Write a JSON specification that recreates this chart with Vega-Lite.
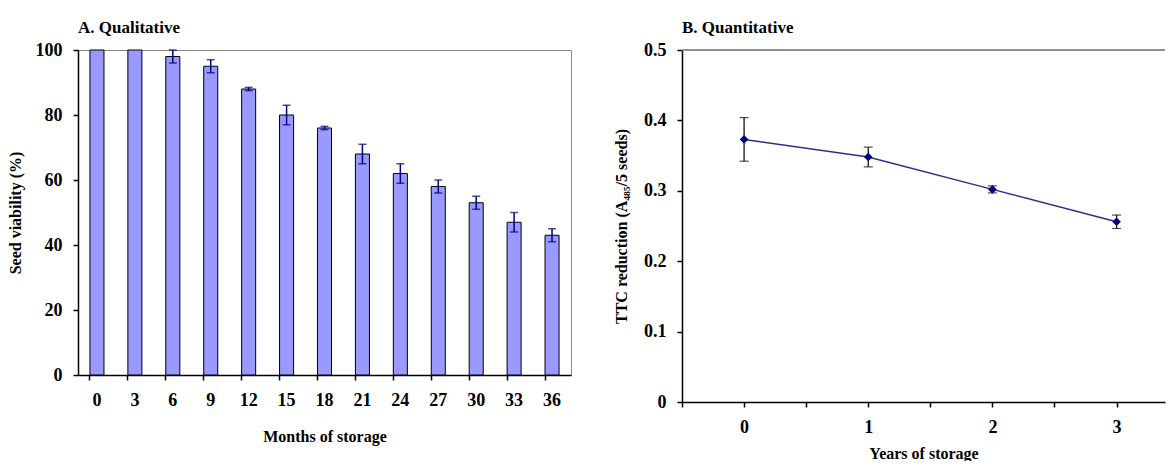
{
  "$schema": "https://vega.github.io/schema/vega-lite/v6.json",
  "padding": {"left": 6, "top": 18, "right": 0, "bottom": 0},
  "background": "white",
  "spacing": 41,
  "hconcat": [
    {
      "width": 493,
      "height": 325,
      "title": {"text": "A. Qualitative"},
      "data": {"values": [
        {"month": 0, "viability": 100, "err": 0},
        {"month": 3, "viability": 100, "err": 0},
        {"month": 6, "viability": 98, "err": 2},
        {"month": 9, "viability": 95, "err": 2},
        {"month": 12, "viability": 88, "err": 0.5},
        {"month": 15, "viability": 80, "err": 3},
        {"month": 18, "viability": 76, "err": 0.5},
        {"month": 21, "viability": 68, "err": 3},
        {"month": 24, "viability": 62, "err": 3},
        {"month": 27, "viability": 58, "err": 2},
        {"month": 30, "viability": 53, "err": 2},
        {"month": 33, "viability": 47, "err": 3},
        {"month": 36, "viability": 43, "err": 2}
      ]},
      "layer": [
        {
          "mark": {"type": "bar", "fill": "#9999ff", "stroke": "#000000", "strokeWidth": 1},
          "encoding": {
            "x": {"field": "month", "type": "ordinal", "title": "Months of storage",
                  "scale": {"paddingInner": 0.63, "paddingOuter": 0.315},
                  "axis": {"labelAngle": 0, "bandPosition": 0, "titlePadding": 19}},
            "y": {"field": "viability", "type": "quantitative", "title": "Seed viability (%)",
                  "scale": {"domain": [0, 100]},
                  "axis": {"values": [0, 20, 40, 60, 80, 100], "titlePadding": 12}}
          }
        },
        {
          "transform": [{"filter": "datum.err > 0"}],
          "mark": {"type": "errorbar", "ticks": {"size": 8}, "color": "#000080", "thickness": 1.5},
          "encoding": {
            "x": {"field": "month", "type": "ordinal", "title": "Months of storage"},
            "y": {"field": "viability", "type": "quantitative", "title": "Seed viability (%)"},
            "yError": {"field": "err"}
          }
        }
      ]
    },
    {
      "width": 483,
      "height": 352,
      "view": {"stroke": null},
      "title": {"text": "B. Quantitative"},
      "data": {"values": [
        {"year": 0, "ttc": 0.373, "err": 0.031},
        {"year": 1, "ttc": 0.348, "err": 0.014},
        {"year": 2, "ttc": 0.302, "err": 0.005},
        {"year": 3, "ttc": 0.256, "err": 0.0095}
      ]},
      "layer": [
        {
          "mark": {"type": "rule", "color": "#888888", "strokeWidth": 1},
          "encoding": {"y": {"datum": 0.5, "type": "quantitative", "title": "TTC reduction (A₄₈₅/5 seeds)"}}
        },
        {
          "mark": {"type": "errorbar", "ticks": {"size": 9}, "color": "#000000", "thickness": 1.2},
          "encoding": {
            "x": {"field": "year", "type": "quantitative", "title": "Years of storage"},
            "y": {"field": "ttc", "type": "quantitative", "title": "TTC reduction (A₄₈₅/5 seeds)"},
            "yError": {"field": "err"}
          }
        },
        {
          "mark": {"type": "line", "color": "#2e2e8c", "strokeWidth": 1.5},
          "encoding": {
            "x": {"field": "year", "type": "quantitative", "title": "Years of storage",
                  "scale": {"domain": [-0.5, 3.39], "nice": false, "zero": false},
                  "axis": {"values": [-0.5, 0, 0.5, 1, 1.5, 2, 2.5, 3],
                           "labelExpr": "datum.value % 1 == 0 ? format(datum.value, 'd') : ''", "titlePadding": 9}},
            "y": {"field": "ttc", "type": "quantitative", "title": "TTC reduction (A₄₈₅/5 seeds)",
                  "scale": {"domain": [0, 0.5], "nice": false},
                  "axis": {"values": [0, 0.1, 0.2, 0.3, 0.4, 0.5], "format": "~g", "titlePadding": 14}}
          }
        },
        {
          "mark": {"type": "point", "shape": "diamond", "filled": true, "color": "#000080", "size": 75, "opacity": 1},
          "encoding": {
            "x": {"field": "year", "type": "quantitative", "title": "Years of storage"},
            "y": {"field": "ttc", "type": "quantitative", "title": "TTC reduction (A₄₈₅/5 seeds)"}
          }
        }
      ]
    }
  ],
  "config": {
    "font": "Liberation Serif",
    "view": {"stroke": "#888888", "strokeWidth": 1},
    "axis": {"grid": false, "domainColor": "#000000", "domainWidth": 1.5, "tickColor": "#000000", "tickWidth": 1.5, "tickSize": 5,
             "labelFont": "Liberation Serif", "labelFontWeight": "bold", "labelFontSize": 18, "labelColor": "#000000", "labelPadding": 11,
             "titleFont": "Liberation Serif", "titleFontWeight": "bold", "titleFontSize": 16, "titleColor": "#000000"},
    "title": {"font": "Liberation Serif", "fontWeight": "bold", "fontSize": 17, "color": "#000000", "anchor": "start", "frame": "group"}
  }
}
